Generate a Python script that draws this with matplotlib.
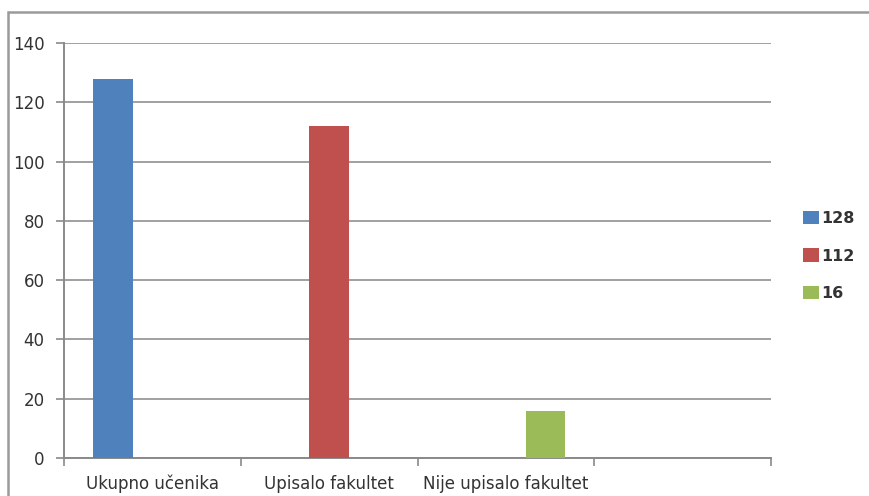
import matplotlib
matplotlib.use("Agg")
import matplotlib.pyplot as plt
from matplotlib.patches import Rectangle
import numpy as np

categories = ["Ukupno učenika", "Upisalo fakultet", "Nije upisalo fakultet", ""]
series_names = ["128", "112", "16"]
values = [128, 112, 16]
colors = ["#4F81BD", "#C0504D", "#9BBB59"]
yticks = [0, 20, 40, 60, 80, 100, 120, 140]

W, H = 869, 496
fig = plt.figure(figsize=(W / 100, H / 100), dpi=100)
fig.patch.set_facecolor("white")

# outer chart frame
fig.patches.append(Rectangle((8 / W, -0.05), 1.2, 1 - 12 / H + 0.05,
                             transform=fig.transFigure, fill=False,
                             edgecolor="#9a9a9a", linewidth=1.8, zorder=0))

left, right, top, bottom = 64, 771, 43, 458
ax = fig.add_axes([left / W, 1 - bottom / H, (right - left) / W, (bottom - top) / H])

n = len(values)
bw = 1 / (n + 1.5)
for i, (v, c, name) in enumerate(zip(values, colors, series_names)):
    x = i + 0.5 + (i - (n - 1) / 2) * bw
    ax.bar(x, v, width=bw, color=c, label=name, zorder=3)

ax.set_xlim(0, len(categories))
ax.set_ylim(0, 140)
ax.set_yticks(yticks)
ax.set_yticklabels([str(t) for t in yticks])
ax.set_xticks(np.arange(len(categories) + 1))
ax.set_xticklabels([])
ax.set_xticks(np.arange(len(categories)) + 0.5, minor=True)
ax.set_xticklabels(categories, minor=True)
ax.tick_params(axis="x", which="minor", length=0, pad=12)
ax.tick_params(axis="x", which="major", length=6, color="#8a8a8a", width=1.2)
ax.tick_params(axis="y", length=6, color="#8a8a8a", width=1.2, pad=8)

for lab in ax.get_yticklabels() + ax.get_xticklabels(minor=True):
    lab.set_fontsize(12)
    lab.set_color("#333333")
    lab.set_family("DejaVu Sans")

ax.grid(axis="y", color="#a0a0a0", linewidth=1.4, zorder=0)
ax.set_axisbelow(True)
for s in ["top", "right"]:
    ax.spines[s].set_visible(False)
for s in ["left", "bottom"]:
    ax.spines[s].set_color("#8a8a8a")
    ax.spines[s].set_linewidth(1.4)

leg = fig.legend(loc="center left", bbox_to_anchor=(797 / W, 1 - 256 / H),
                 frameon=False, handlelength=1.0, handleheight=0.9,
                 handletextpad=0.1, labelspacing=1.4, borderaxespad=0,
                 prop={"family": "DejaVu Sans", "size": 11.5, "weight": "semibold"})
for t in leg.get_texts():
    t.set_color("#333333")

fig.savefig("out.png", dpi=100)
